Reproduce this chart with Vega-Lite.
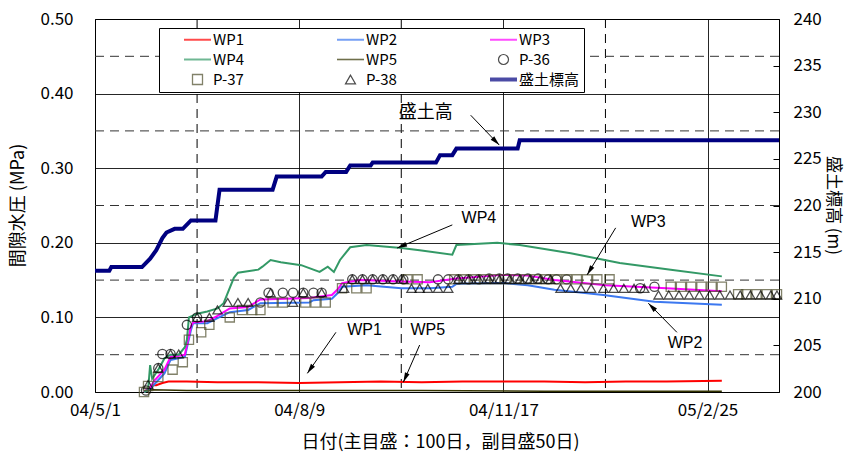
{
  "$schema": "https://vega.github.io/schema/vega-lite/v6.json",
  "width": 684,
  "height": 373,
  "autosize": "none",
  "padding": {"left": 95, "top": 19, "right": 67, "bottom": 62},
  "background": "white",
  "config": {
    "view": {"stroke": "#000", "strokeWidth": 1},
    "axis": {"labelFont": "Noto Sans CJK JP", "titleFont": "Noto Sans CJK JP", "labelColor": "#000", "titleColor": "#000", "titleFontWeight": "normal", "labelFontSize": 17, "titleFontSize": 18, "gridColor": "#000", "gridOpacity": 0.85, "domain": false, "ticks": false, "labelFlush": false, "labelOverlap": false, "labelBound": false},
    "legend": {"padding": 4, "fillColor": "#fff", "strokeColor": "#000", "labelFont": "Noto Sans CJK JP", "labelFontSize": 15, "labelColor": "#000", "symbolOffset": 27, "labelOffset": 8, "rowPadding": 3, "columnPadding": 42, "gridAlign": "all", "symbolSize": 100}
  },
  "datasets": {
    "gridx": [{"date": "2004-06-20"}, {"date": "2004-09-28"}, {"date": "2005-01-06"}],
    "gridy": [{"value": 0.05}, {"value": 0.15}, {"value": 0.25}, {"value": 0.35}, {"value": 0.45}],
    "lines": [
      {"series": "WP1", "date": "2004-05-25", "value": 0},
      {"series": "WP1", "date": "2004-05-27", "value": 0.004},
      {"series": "WP1", "date": "2004-05-29", "value": 0.009},
      {"series": "WP1", "date": "2004-05-31", "value": 0.009},
      {"series": "WP1", "date": "2004-06-03", "value": 0.012},
      {"series": "WP1", "date": "2004-06-06", "value": 0.014},
      {"series": "WP1", "date": "2004-06-15", "value": 0.014},
      {"series": "WP1", "date": "2004-06-30", "value": 0.013},
      {"series": "WP1", "date": "2004-07-20", "value": 0.013},
      {"series": "WP1", "date": "2004-08-09", "value": 0.012},
      {"series": "WP1", "date": "2004-08-29", "value": 0.013},
      {"series": "WP1", "date": "2004-09-18", "value": 0.014},
      {"series": "WP1", "date": "2004-10-08", "value": 0.013},
      {"series": "WP1", "date": "2004-10-28", "value": 0.014},
      {"series": "WP1", "date": "2004-11-17", "value": 0.014},
      {"series": "WP1", "date": "2004-12-07", "value": 0.014},
      {"series": "WP1", "date": "2004-12-27", "value": 0.013},
      {"series": "WP1", "date": "2005-01-16", "value": 0.014},
      {"series": "WP1", "date": "2005-02-05", "value": 0.014},
      {"series": "WP1", "date": "2005-03-04", "value": 0.015},
      {"series": "WP5", "date": "2004-05-25", "value": 0},
      {"series": "WP5", "date": "2004-05-29", "value": 0.003},
      {"series": "WP5", "date": "2004-06-15", "value": 0.002},
      {"series": "WP5", "date": "2004-08-09", "value": 0.002},
      {"series": "WP5", "date": "2004-10-08", "value": 0.002},
      {"series": "WP5", "date": "2004-12-07", "value": 0.001},
      {"series": "WP5", "date": "2005-02-05", "value": 0.001},
      {"series": "WP5", "date": "2005-03-04", "value": 0.001},
      {"series": "WP2", "date": "2004-05-25", "value": 0},
      {"series": "WP2", "date": "2004-05-28", "value": 0.004},
      {"series": "WP2", "date": "2004-05-30", "value": 0.01},
      {"series": "WP2", "date": "2004-06-04", "value": 0.025},
      {"series": "WP2", "date": "2004-06-07", "value": 0.043},
      {"series": "WP2", "date": "2004-06-12", "value": 0.046},
      {"series": "WP2", "date": "2004-06-14", "value": 0.047},
      {"series": "WP2", "date": "2004-06-17", "value": 0.083},
      {"series": "WP2", "date": "2004-06-18", "value": 0.092},
      {"series": "WP2", "date": "2004-06-25", "value": 0.092},
      {"series": "WP2", "date": "2004-06-30", "value": 0.099},
      {"series": "WP2", "date": "2004-07-06", "value": 0.107},
      {"series": "WP2", "date": "2004-07-15", "value": 0.11},
      {"series": "WP2", "date": "2004-07-21", "value": 0.119},
      {"series": "WP2", "date": "2004-08-14", "value": 0.12},
      {"series": "WP2", "date": "2004-08-16", "value": 0.123},
      {"series": "WP2", "date": "2004-08-25", "value": 0.125},
      {"series": "WP2", "date": "2004-08-28", "value": 0.133},
      {"series": "WP2", "date": "2004-08-30", "value": 0.141},
      {"series": "WP2", "date": "2004-09-11", "value": 0.143},
      {"series": "WP2", "date": "2004-09-28", "value": 0.139},
      {"series": "WP2", "date": "2004-10-12", "value": 0.139},
      {"series": "WP2", "date": "2004-10-23", "value": 0.141},
      {"series": "WP2", "date": "2004-10-25", "value": 0.145},
      {"series": "WP2", "date": "2004-11-17", "value": 0.146},
      {"series": "WP2", "date": "2004-11-29", "value": 0.143},
      {"series": "WP2", "date": "2004-12-12", "value": 0.137},
      {"series": "WP2", "date": "2005-01-05", "value": 0.13},
      {"series": "WP2", "date": "2005-01-30", "value": 0.121},
      {"series": "WP2", "date": "2005-03-04", "value": 0.117},
      {"series": "WP3", "date": "2004-05-25", "value": 0},
      {"series": "WP3", "date": "2004-05-28", "value": 0.006},
      {"series": "WP3", "date": "2004-05-30", "value": 0.015},
      {"series": "WP3", "date": "2004-06-04", "value": 0.03},
      {"series": "WP3", "date": "2004-06-07", "value": 0.047},
      {"series": "WP3", "date": "2004-06-12", "value": 0.049},
      {"series": "WP3", "date": "2004-06-14", "value": 0.05},
      {"series": "WP3", "date": "2004-06-17", "value": 0.088},
      {"series": "WP3", "date": "2004-06-18", "value": 0.093},
      {"series": "WP3", "date": "2004-06-25", "value": 0.095},
      {"series": "WP3", "date": "2004-06-30", "value": 0.102},
      {"series": "WP3", "date": "2004-07-06", "value": 0.112},
      {"series": "WP3", "date": "2004-07-15", "value": 0.114},
      {"series": "WP3", "date": "2004-07-21", "value": 0.124},
      {"series": "WP3", "date": "2004-08-14", "value": 0.126},
      {"series": "WP3", "date": "2004-08-25", "value": 0.13},
      {"series": "WP3", "date": "2004-08-28", "value": 0.138},
      {"series": "WP3", "date": "2004-08-30", "value": 0.146},
      {"series": "WP3", "date": "2004-09-08", "value": 0.15},
      {"series": "WP3", "date": "2004-09-28", "value": 0.148},
      {"series": "WP3", "date": "2004-10-12", "value": 0.147},
      {"series": "WP3", "date": "2004-10-25", "value": 0.152},
      {"series": "WP3", "date": "2004-11-17", "value": 0.157},
      {"series": "WP3", "date": "2004-11-29", "value": 0.156},
      {"series": "WP3", "date": "2004-12-12", "value": 0.15},
      {"series": "WP3", "date": "2005-01-06", "value": 0.143},
      {"series": "WP3", "date": "2005-02-05", "value": 0.139},
      {"series": "WP3", "date": "2005-03-04", "value": 0.135},
      {"series": "WP4", "date": "2004-05-25", "value": 0},
      {"series": "WP4", "date": "2004-05-27", "value": 0.003},
      {"series": "WP4", "date": "2004-05-28", "value": 0.036},
      {"series": "WP4", "date": "2004-05-29", "value": 0.018},
      {"series": "WP4", "date": "2004-06-01", "value": 0.03},
      {"series": "WP4", "date": "2004-06-04", "value": 0.045},
      {"series": "WP4", "date": "2004-06-07", "value": 0.05},
      {"series": "WP4", "date": "2004-06-11", "value": 0.05},
      {"series": "WP4", "date": "2004-06-14", "value": 0.06},
      {"series": "WP4", "date": "2004-06-15", "value": 0.07},
      {"series": "WP4", "date": "2004-06-16", "value": 0.1},
      {"series": "WP4", "date": "2004-06-20", "value": 0.105},
      {"series": "WP4", "date": "2004-06-25", "value": 0.108},
      {"series": "WP4", "date": "2004-06-30", "value": 0.112},
      {"series": "WP4", "date": "2004-07-03", "value": 0.119},
      {"series": "WP4", "date": "2004-07-08", "value": 0.153},
      {"series": "WP4", "date": "2004-07-10", "value": 0.16},
      {"series": "WP4", "date": "2004-07-20", "value": 0.164},
      {"series": "WP4", "date": "2004-07-22", "value": 0.168},
      {"series": "WP4", "date": "2004-07-26", "value": 0.177},
      {"series": "WP4", "date": "2004-07-31", "value": 0.174},
      {"series": "WP4", "date": "2004-08-10", "value": 0.17},
      {"series": "WP4", "date": "2004-08-19", "value": 0.161},
      {"series": "WP4", "date": "2004-08-23", "value": 0.168},
      {"series": "WP4", "date": "2004-08-26", "value": 0.161},
      {"series": "WP4", "date": "2004-08-29", "value": 0.177},
      {"series": "WP4", "date": "2004-09-03", "value": 0.194},
      {"series": "WP4", "date": "2004-09-11", "value": 0.197},
      {"series": "WP4", "date": "2004-09-28", "value": 0.193},
      {"series": "WP4", "date": "2004-10-07", "value": 0.19},
      {"series": "WP4", "date": "2004-10-23", "value": 0.184},
      {"series": "WP4", "date": "2004-10-25", "value": 0.197},
      {"series": "WP4", "date": "2004-11-14", "value": 0.2},
      {"series": "WP4", "date": "2004-11-25", "value": 0.197},
      {"series": "WP4", "date": "2004-12-20", "value": 0.186},
      {"series": "WP4", "date": "2005-01-13", "value": 0.173},
      {"series": "WP4", "date": "2005-02-07", "value": 0.164},
      {"series": "WP4", "date": "2005-03-04", "value": 0.155}
    ],
    "markers": [
      {"series": "P-36", "date": "2004-05-26", "value": 0.002},
      {"series": "P-36", "date": "2004-06-01", "value": 0.032},
      {"series": "P-36", "date": "2004-06-03", "value": 0.051},
      {"series": "P-36", "date": "2004-06-07", "value": 0.051},
      {"series": "P-36", "date": "2004-06-15", "value": 0.09},
      {"series": "P-36", "date": "2004-06-20", "value": 0.1},
      {"series": "P-36", "date": "2004-07-21", "value": 0.12},
      {"series": "P-36", "date": "2004-07-25", "value": 0.133},
      {"series": "P-36", "date": "2004-08-01", "value": 0.133},
      {"series": "P-36", "date": "2004-08-06", "value": 0.133},
      {"series": "P-36", "date": "2004-08-11", "value": 0.133},
      {"series": "P-36", "date": "2004-08-16", "value": 0.133},
      {"series": "P-36", "date": "2004-08-20", "value": 0.133},
      {"series": "P-36", "date": "2004-09-04", "value": 0.151},
      {"series": "P-36", "date": "2004-09-09", "value": 0.151},
      {"series": "P-36", "date": "2004-09-14", "value": 0.151},
      {"series": "P-36", "date": "2004-09-19", "value": 0.151},
      {"series": "P-36", "date": "2004-09-24", "value": 0.151},
      {"series": "P-36", "date": "2004-09-29", "value": 0.151},
      {"series": "P-36", "date": "2004-10-16", "value": 0.151},
      {"series": "P-36", "date": "2004-10-21", "value": 0.151},
      {"series": "P-36", "date": "2004-10-26", "value": 0.151},
      {"series": "P-36", "date": "2004-10-31", "value": 0.151},
      {"series": "P-36", "date": "2004-11-05", "value": 0.151},
      {"series": "P-36", "date": "2004-11-10", "value": 0.152},
      {"series": "P-36", "date": "2004-11-15", "value": 0.152},
      {"series": "P-36", "date": "2004-11-19", "value": 0.152},
      {"series": "P-36", "date": "2004-11-24", "value": 0.152},
      {"series": "P-36", "date": "2004-11-29", "value": 0.152},
      {"series": "P-36", "date": "2004-12-04", "value": 0.152},
      {"series": "P-36", "date": "2004-12-09", "value": 0.151},
      {"series": "P-36", "date": "2004-12-13", "value": 0.151},
      {"series": "P-36", "date": "2004-12-18", "value": 0.151},
      {"series": "P-36", "date": "2005-01-23", "value": 0.139},
      {"series": "P-36", "date": "2005-01-30", "value": 0.141},
      {"series": "P-37", "date": "2004-05-25", "value": 0},
      {"series": "P-37", "date": "2004-05-27", "value": 0.008},
      {"series": "P-37", "date": "2004-06-01", "value": 0.02},
      {"series": "P-37", "date": "2004-06-08", "value": 0.03},
      {"series": "P-37", "date": "2004-06-13", "value": 0.04},
      {"series": "P-37", "date": "2004-06-16", "value": 0.07},
      {"series": "P-37", "date": "2004-06-22", "value": 0.08},
      {"series": "P-37", "date": "2004-06-26", "value": 0.09},
      {"series": "P-37", "date": "2004-07-06", "value": 0.1},
      {"series": "P-37", "date": "2004-07-12", "value": 0.11},
      {"series": "P-37", "date": "2004-07-17", "value": 0.11},
      {"series": "P-37", "date": "2004-07-21", "value": 0.11},
      {"series": "P-37", "date": "2004-07-27", "value": 0.12},
      {"series": "P-37", "date": "2004-08-01", "value": 0.12},
      {"series": "P-37", "date": "2004-08-12", "value": 0.12},
      {"series": "P-37", "date": "2004-08-17", "value": 0.12},
      {"series": "P-37", "date": "2004-08-22", "value": 0.12},
      {"series": "P-37", "date": "2004-08-30", "value": 0.139},
      {"series": "P-37", "date": "2004-09-06", "value": 0.139},
      {"series": "P-37", "date": "2004-09-11", "value": 0.139},
      {"series": "P-37", "date": "2004-10-01", "value": 0.151},
      {"series": "P-37", "date": "2004-10-06", "value": 0.151},
      {"series": "P-37", "date": "2004-10-24", "value": 0.151},
      {"series": "P-37", "date": "2004-10-29", "value": 0.151},
      {"series": "P-37", "date": "2004-11-03", "value": 0.151},
      {"series": "P-37", "date": "2004-11-08", "value": 0.151},
      {"series": "P-37", "date": "2004-11-13", "value": 0.151},
      {"series": "P-37", "date": "2004-11-18", "value": 0.151},
      {"series": "P-37", "date": "2004-11-23", "value": 0.151},
      {"series": "P-37", "date": "2004-11-28", "value": 0.151},
      {"series": "P-37", "date": "2004-12-03", "value": 0.151},
      {"series": "P-37", "date": "2004-12-08", "value": 0.151},
      {"series": "P-37", "date": "2004-12-13", "value": 0.151},
      {"series": "P-37", "date": "2004-12-18", "value": 0.151},
      {"series": "P-37", "date": "2004-12-23", "value": 0.151},
      {"series": "P-37", "date": "2004-12-28", "value": 0.151},
      {"series": "P-37", "date": "2005-01-02", "value": 0.151},
      {"series": "P-37", "date": "2005-01-08", "value": 0.151},
      {"series": "P-37", "date": "2005-02-07", "value": 0.141},
      {"series": "P-37", "date": "2005-02-12", "value": 0.141},
      {"series": "P-37", "date": "2005-02-17", "value": 0.141},
      {"series": "P-37", "date": "2005-02-22", "value": 0.141},
      {"series": "P-37", "date": "2005-02-27", "value": 0.141},
      {"series": "P-37", "date": "2005-03-04", "value": 0.141},
      {"series": "P-37", "date": "2005-03-12", "value": 0.131},
      {"series": "P-37", "date": "2005-03-16", "value": 0.131},
      {"series": "P-37", "date": "2005-03-21", "value": 0.131},
      {"series": "P-37", "date": "2005-03-26", "value": 0.131},
      {"series": "P-37", "date": "2005-03-31", "value": 0.131},
      {"series": "P-38", "date": "2004-05-27", "value": 0.01},
      {"series": "P-38", "date": "2004-06-01", "value": 0.032},
      {"series": "P-38", "date": "2004-06-07", "value": 0.051},
      {"series": "P-38", "date": "2004-06-11", "value": 0.051},
      {"series": "P-38", "date": "2004-06-20", "value": 0.1},
      {"series": "P-38", "date": "2004-06-26", "value": 0.1},
      {"series": "P-38", "date": "2004-06-30", "value": 0.11},
      {"series": "P-38", "date": "2004-07-05", "value": 0.12},
      {"series": "P-38", "date": "2004-07-10", "value": 0.12},
      {"series": "P-38", "date": "2004-07-15", "value": 0.12},
      {"series": "P-38", "date": "2004-07-26", "value": 0.133},
      {"series": "P-38", "date": "2004-08-06", "value": 0.12},
      {"series": "P-38", "date": "2004-08-11", "value": 0.133},
      {"series": "P-38", "date": "2004-08-20", "value": 0.133},
      {"series": "P-38", "date": "2004-08-31", "value": 0.139},
      {"series": "P-38", "date": "2004-09-04", "value": 0.151},
      {"series": "P-38", "date": "2004-09-09", "value": 0.151},
      {"series": "P-38", "date": "2004-09-14", "value": 0.151},
      {"series": "P-38", "date": "2004-09-19", "value": 0.151},
      {"series": "P-38", "date": "2004-09-24", "value": 0.151},
      {"series": "P-38", "date": "2004-09-29", "value": 0.151},
      {"series": "P-38", "date": "2004-10-03", "value": 0.139},
      {"series": "P-38", "date": "2004-10-07", "value": 0.139},
      {"series": "P-38", "date": "2004-10-11", "value": 0.139},
      {"series": "P-38", "date": "2004-10-16", "value": 0.139},
      {"series": "P-38", "date": "2004-10-21", "value": 0.139},
      {"series": "P-38", "date": "2004-10-26", "value": 0.151},
      {"series": "P-38", "date": "2004-10-31", "value": 0.151},
      {"series": "P-38", "date": "2004-11-05", "value": 0.151},
      {"series": "P-38", "date": "2004-11-10", "value": 0.151},
      {"series": "P-38", "date": "2004-11-15", "value": 0.151},
      {"series": "P-38", "date": "2004-11-20", "value": 0.151},
      {"series": "P-38", "date": "2004-11-25", "value": 0.151},
      {"series": "P-38", "date": "2004-11-30", "value": 0.151},
      {"series": "P-38", "date": "2004-12-05", "value": 0.151},
      {"series": "P-38", "date": "2004-12-10", "value": 0.151},
      {"series": "P-38", "date": "2004-12-15", "value": 0.139},
      {"series": "P-38", "date": "2004-12-20", "value": 0.139},
      {"series": "P-38", "date": "2004-12-25", "value": 0.139},
      {"series": "P-38", "date": "2004-12-30", "value": 0.139},
      {"series": "P-38", "date": "2005-01-05", "value": 0.139},
      {"series": "P-38", "date": "2005-01-10", "value": 0.139},
      {"series": "P-38", "date": "2005-01-15", "value": 0.139},
      {"series": "P-38", "date": "2005-01-20", "value": 0.139},
      {"series": "P-38", "date": "2005-01-25", "value": 0.139},
      {"series": "P-38", "date": "2005-02-01", "value": 0.13},
      {"series": "P-38", "date": "2005-02-06", "value": 0.13},
      {"series": "P-38", "date": "2005-02-11", "value": 0.13},
      {"series": "P-38", "date": "2005-02-16", "value": 0.13},
      {"series": "P-38", "date": "2005-02-21", "value": 0.13},
      {"series": "P-38", "date": "2005-02-26", "value": 0.13},
      {"series": "P-38", "date": "2005-03-03", "value": 0.13},
      {"series": "P-38", "date": "2005-03-08", "value": 0.13},
      {"series": "P-38", "date": "2005-03-13", "value": 0.13},
      {"series": "P-38", "date": "2005-03-18", "value": 0.13},
      {"series": "P-38", "date": "2005-03-23", "value": 0.13},
      {"series": "P-38", "date": "2005-03-28", "value": 0.13},
      {"series": "P-38", "date": "2005-03-31", "value": 0.13}
    ],
    "fill": [
      {"series": "盛土標高", "date": "2004-05-01", "value": 213.0},
      {"series": "盛土標高", "date": "2004-05-08", "value": 213.0},
      {"series": "盛土標高", "date": "2004-05-09", "value": 213.4},
      {"series": "盛土標高", "date": "2004-05-24", "value": 213.4},
      {"series": "盛土標高", "date": "2004-05-28", "value": 214.3},
      {"series": "盛土標高", "date": "2004-05-31", "value": 215.2},
      {"series": "盛土標高", "date": "2004-06-03", "value": 216.5},
      {"series": "盛土標高", "date": "2004-06-05", "value": 217.1},
      {"series": "盛土標高", "date": "2004-06-09", "value": 217.5},
      {"series": "盛土標高", "date": "2004-06-13", "value": 217.5},
      {"series": "盛土標高", "date": "2004-06-17", "value": 218.4},
      {"series": "盛土標高", "date": "2004-06-29", "value": 218.4},
      {"series": "盛土標高", "date": "2004-07-01", "value": 221.7},
      {"series": "盛土標高", "date": "2004-07-27", "value": 221.7},
      {"series": "盛土標高", "date": "2004-07-29", "value": 223.1},
      {"series": "盛土標高", "date": "2004-08-20", "value": 223.1},
      {"series": "盛土標高", "date": "2004-08-22", "value": 223.6},
      {"series": "盛土標高", "date": "2004-09-01", "value": 223.6},
      {"series": "盛土標高", "date": "2004-09-03", "value": 224.3},
      {"series": "盛土標高", "date": "2004-09-13", "value": 224.3},
      {"series": "盛土標高", "date": "2004-09-14", "value": 224.6},
      {"series": "盛土標高", "date": "2004-10-15", "value": 224.6},
      {"series": "盛土標高", "date": "2004-10-17", "value": 225.4},
      {"series": "盛土標高", "date": "2004-10-23", "value": 225.4},
      {"series": "盛土標高", "date": "2004-10-25", "value": 226.1},
      {"series": "盛土標高", "date": "2004-11-24", "value": 226.1},
      {"series": "盛土標高", "date": "2004-11-25", "value": 227.0},
      {"series": "盛土標高", "date": "2005-04-01", "value": 227.0}
    ],
    "notes": [
      {"label": "盛土高", "date": "2004-10-10", "value": 0.374},
      {"label": "WP4", "date": "2004-11-05", "value": 0.233},
      {"label": "WP3", "date": "2005-01-27", "value": 0.228},
      {"label": "WP2", "date": "2005-02-14", "value": 0.066},
      {"label": "WP1", "date": "2004-09-10", "value": 0.083},
      {"label": "WP5", "date": "2004-10-11", "value": 0.083}
    ],
    "arrows": [
      {"date": "2004-11-01", "value": 0.371, "date2": "2004-11-15", "value2": 0.331},
      {"date": "2004-10-23", "value": 0.224, "date2": "2004-09-26", "value2": 0.193},
      {"date": "2005-01-11", "value": 0.22, "date2": "2004-12-28", "value2": 0.157},
      {"date": "2005-02-10", "value": 0.08, "date2": "2005-01-27", "value2": 0.119},
      {"date": "2004-08-27", "value": 0.08, "date2": "2004-08-13", "value2": 0.025},
      {"date": "2004-10-07", "value": 0.063, "date2": "2004-09-29", "value2": 0.013}
    ]
  },
  "layer": [
    {
      "layer": [
        {
          "data": {"name": "gridx"},
          "mark": {"type": "rule", "stroke": "#000", "strokeDash": [9, 6], "strokeWidth": 1},
          "encoding": {
            "x": {"field": "date", "type": "temporal",
              "scale": {"type": "utc", "domain": [{"year": 2004, "month": 5, "date": 1, "utc": true}, {"year": 2005, "month": 4, "date": 1, "utc": true}]},
              "axis": {"values": [{"year": 2004, "month": 5, "date": 1, "utc": true}, {"year": 2004, "month": 8, "date": 9, "utc": true}, {"year": 2004, "month": 11, "date": 17, "utc": true}, {"year": 2005, "month": 2, "date": 25, "utc": true}],
                "labelExpr": "utcFormat(datum.value, '%y/%-m/%-d')", "grid": true, "labelPadding": 10,
                "title": "日付(主目盛：100日，副目盛50日)", "titleX": 345, "titleY": 50, "titleBaseline": "middle"}}
          }
        },
        {
          "data": {"name": "gridy"},
          "mark": {"type": "rule", "stroke": "#333", "strokeDash": [9, 6], "strokeWidth": 1},
          "encoding": {
            "y": {"field": "value", "type": "quantitative", "scale": {"domain": [0, 0.5], "nice": false, "zero": false},
              "axis": {"orient": "left", "values": [0, 0.1, 0.2, 0.3, 0.4, 0.5], "format": ".2f", "grid": true, "labelPadding": 22,
                "title": "間隙水圧 (MPa)", "titleX": -77, "titleY": 186, "titleBaseline": "middle", "titleAngle": 270}}
          }
        },
        {
          "data": {"name": "lines"},
          "mark": {"type": "line"},
          "encoding": {
            "x": {"field": "date", "type": "temporal"},
            "y": {"field": "value", "type": "quantitative"},
            "color": {"field": "series", "type": "nominal",
              "scale": {"domain": ["WP1", "WP4", "P-37", "WP2", "WP5", "P-38", "WP3", "P-36", "盛土標高"], "range": ["#ff0000", "#339966", "#4d4d2b", "#3c78f0", "#333300", "#000000", "#ff00ff", "#000000", "#000080"]},
              "legend": {"title": null, "orient": "none", "legendX": 64, "legendY": 9, "columns": 3}},
            "strokeWidth": {"field": "series", "type": "nominal",
              "scale": {"type": "ordinal", "domain": ["WP1", "WP4", "P-37", "WP2", "WP5", "P-38", "WP3", "P-36", "盛土標高"], "range": [2, 2, 1.3, 2, 1.6, 1.2, 2, 1.2, 4]},
              "legend": {"title": null, "orient": "none", "legendX": 64, "legendY": 9, "columns": 3}}
          }
        },
        {
          "data": {"name": "markers"},
          "mark": {"type": "point", "filled": false, "size": 85, "strokeWidth": 1.3},
          "encoding": {
            "x": {"field": "date", "type": "temporal"},
            "y": {"field": "value", "type": "quantitative"},
            "color": {"field": "series", "type": "nominal",
              "scale": {"domain": ["WP1", "WP4", "P-37", "WP2", "WP5", "P-38", "WP3", "P-36", "盛土標高"], "range": ["#ff0000", "#339966", "#4d4d2b", "#3c78f0", "#333300", "#000000", "#ff00ff", "#000000", "#000080"]},
              "legend": {"title": null, "orient": "none", "legendX": 64, "legendY": 9, "columns": 3}},
            "shape": {"field": "series", "type": "nominal",
              "scale": {"domain": ["WP1", "WP4", "P-37", "WP2", "WP5", "P-38", "WP3", "P-36", "盛土標高"], "range": ["M-2.7,0L2.7,0", "M-2.7,0L2.7,0", "square", "M-2.7,0L2.7,0", "M-2.7,0L2.7,0", "triangle-up", "M-2.7,0L2.7,0", "circle", "M-2.7,0L2.7,0"]},
              "legend": {"title": null, "orient": "none", "legendX": 64, "legendY": 9, "columns": 3}}
          }
        },
        {
          "data": {"name": "arrows"},
          "mark": {"type": "rule", "color": "#000", "strokeWidth": 1},
          "encoding": {
            "x": {"field": "date", "type": "temporal"},
            "x2": {"field": "date2"},
            "y": {"field": "value", "type": "quantitative"},
            "y2": {"field": "value2"}
          }
        },
        {
          "data": {"name": "arrows"},
          "transform": [{"calculate": "atan2((time(datum.date2) - time(datum.date)) / 86400000 * 2.04, (datum.value2 - datum.value) * 746) * 180 / PI", "as": "angle"}],
          "mark": {"type": "point", "shape": "M0,0L-0.45,1.8L0.45,1.8Z", "filled": true, "size": 120, "color": "#000", "opacity": 1},
          "encoding": {
            "x": {"field": "date2", "type": "temporal"},
            "y": {"field": "value2", "type": "quantitative"},
            "angle": {"field": "angle", "type": "quantitative", "scale": null}
          }
        },
        {
          "data": {"name": "notes"},
          "transform": [{"filter": "datum.label !== '盛土高'"}],
          "mark": {"type": "text", "font": "Liberation Sans", "fontSize": 16, "color": "#000", "align": "center", "baseline": "middle"},
          "encoding": {
            "x": {"field": "date", "type": "temporal"},
            "y": {"field": "value", "type": "quantitative"},
            "text": {"field": "label"}
          }
        },
        {
          "data": {"name": "notes"},
          "transform": [{"filter": "datum.label === '盛土高'"}],
          "mark": {"type": "text", "font": "Noto Sans CJK JP", "fontSize": 18, "color": "#000", "align": "center", "baseline": "middle"},
          "encoding": {
            "x": {"field": "date", "type": "temporal"},
            "y": {"field": "value", "type": "quantitative"},
            "text": {"field": "label"}
          }
        }
      ]
    },
    {
      "data": {"name": "fill"},
      "mark": {"type": "line"},
      "encoding": {
        "x": {"field": "date", "type": "temporal"},
        "y": {"field": "value", "type": "quantitative", "scale": {"domain": [200, 240], "nice": false, "zero": false},
          "axis": {"orient": "right", "values": [200, 205, 210, 215, 220, 225, 230, 235, 240], "grid": false, "ticks": true, "tickSize": -6, "tickColor": "#000", "labelPadding": 20,
            "title": "盛土標高 (m)", "titleFontSize": 17, "titleAngle": 90, "titleX": 53, "titleY": 186, "titleBaseline": "middle"}},
        "color": {"field": "series", "type": "nominal",
          "scale": {"domain": ["WP1", "WP4", "P-37", "WP2", "WP5", "P-38", "WP3", "P-36", "盛土標高"], "range": ["#ff0000", "#339966", "#4d4d2b", "#3c78f0", "#333300", "#000000", "#ff00ff", "#000000", "#000080"]},
          "legend": {"title": null, "orient": "none", "legendX": 64, "legendY": 9, "columns": 3}},
        "strokeWidth": {"field": "series", "type": "nominal",
          "scale": {"type": "ordinal", "domain": ["WP1", "WP4", "P-37", "WP2", "WP5", "P-38", "WP3", "P-36", "盛土標高"], "range": [2, 2, 1.3, 2, 1.6, 1.2, 2, 1.2, 4]},
          "legend": {"title": null, "orient": "none", "legendX": 64, "legendY": 9, "columns": 3}}
      }
    }
  ],
  "resolve": {"scale": {"y": "independent"}}
}
